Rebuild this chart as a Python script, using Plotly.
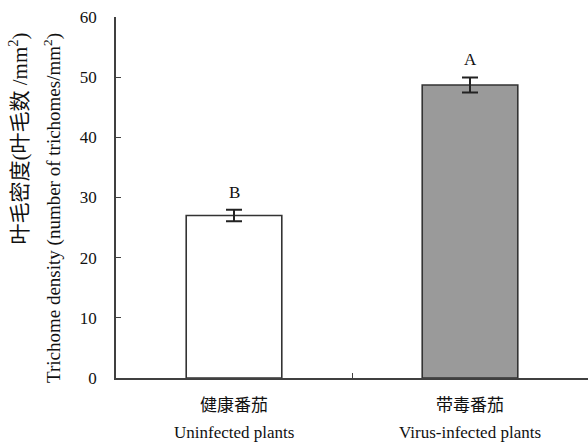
import plotly.graph_objects as go

categories = ["Uninfected", "Virus-infected"]
cn_labels = ["健康番茄", "带毒番茄"]
en_labels = ["Uninfected plants", "Virus-infected plants"]
values = [27.0, 48.7]
errors = [0.95, 1.25]
letters = ["B", "A"]
bar_colors = ["#ffffff", "#9a9a9a"]

SERIF = "Times New Roman, Liberation Serif, serif"
CJK = "Noto Sans CJK SC, sans-serif"
AXC = "#404040"

fig = go.Figure()
fig.add_trace(go.Bar(
    x=categories, y=values,
    marker=dict(color=bar_colors, line=dict(color="#333333", width=1.6)),
    error_y=dict(type="data", array=errors, visible=True, color="#222222", thickness=2, width=8),
    width=0.405,
    showlegend=False,
    hoverinfo="skip",
))

annotations = []
for c, v, e, l in zip(categories, values, errors, letters):
    annotations.append(dict(x=c, y=v + e, xref="x", yref="y", text=l, showarrow=False,
                            yanchor="bottom", yshift=6, font=dict(family=SERIF, size=17, color="#111")))
for c, cn, en in zip(categories, cn_labels, en_labels):
    annotations.append(dict(x=c, y=-0.072, xref="x", yref="paper", text=cn, showarrow=False,
                            yanchor="middle", font=dict(family=CJK, size=17, color="#111")))
    annotations.append(dict(x=c, y=-0.15, xref="x", yref="paper", text=en, showarrow=False,
                            yanchor="middle", font=dict(family=SERIF, size=17, color="#111")))

annotations.append(dict(x=-0.206, y=0.962, xref="paper", yref="paper",
                        text="叶毛密度(叶毛数 /mm<sup>2</sup>)", showarrow=False, textangle=-90,
                        xanchor="center", yanchor="top",
                        font=dict(family="Liberation Serif, Noto Sans CJK SC, serif", size=21, color="#111")))
annotations.append(dict(x=-0.135, y=0.962, xref="paper", yref="paper",
                        text="Trichome density (number of trichomes/mm<sup>2</sup>)", showarrow=False,
                        textangle=-90, xanchor="center", yanchor="top",
                        font=dict(family=SERIF, size=19, color="#111")))

fig.update_layout(
    width=588, height=443,
    margin=dict(l=116, r=0, t=17, b=65),
    plot_bgcolor="white", paper_bgcolor="white",
    annotations=annotations,
    xaxis=dict(showline=True, linecolor=AXC, linewidth=1.5, showgrid=False,
               tickson="boundaries", ticks="inside", ticklen=5, tickcolor=AXC,
               showticklabels=False, range=[-0.5, 1.5], zeroline=False),
    yaxis=dict(range=[0, 60], dtick=10, showline=True, linecolor=AXC, linewidth=1.5,
               showgrid=False, zeroline=False, ticks="inside", ticklen=5, tickcolor=AXC,
               ticklabelstandoff=14,
               tickfont=dict(family=SERIF, size=17, color="#111")),
)

fig.write_html("out.html", config={"displayModeBar": False},
               post_script="document.body.style.margin='0';document.body.style.overflow='hidden';")
